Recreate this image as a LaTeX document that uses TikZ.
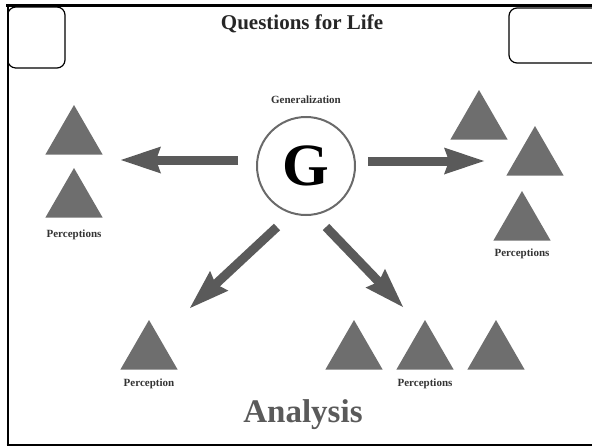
\documentclass[tikz,border=0pt]{standalone}
\usepackage{fontspec}
\setmainfont{Liberation Serif}
\usetikzlibrary{shapes.geometric, arrows.meta, positioning}

\definecolor{arrowgray}{HTML}{5A5A5A}
\definecolor{trigray}{HTML}{6E6E6E}
\definecolor{ringgray}{HTML}{6A6A6A}

\begin{document}
\begin{tikzpicture}[x=1pt, y=-1pt,
            % Styles
            percept/.style={regular polygon, regular polygon sides=3, fill=trigray, minimum size=66pt, inner sep=0pt, outer sep=0pt},
            caption/.style={font=\bfseries\fontsize{11}{13}\selectfont, text=black!80, inner sep=0pt},
            gen/.style={circle, draw=ringgray, line width=2pt, minimum size=98pt, inner sep=0pt, font=\bfseries\fontsize{60}{60}\selectfont},
            bigarrow/.style={draw=arrowgray, line width=9pt, -{Stealth[length=40pt, width=27pt, inset=5pt, line width=0pt]}},
            tab/.style={draw=black, line width=1.2pt, rounded corners=8pt}
        ]
        \useasboundingbox (0,0) rectangle (592,447);

        % Frame
        \draw[line width=3pt] (6,5.5) -- (592,5.5);
        \draw[line width=2.4pt] (7.8,4) -- (7.8,446);
        \draw[line width=1.6pt] (6.6,445) -- (592,445);
        \draw[tab] (7.8,7) rectangle (65,68);
        \draw[tab] (592,8) -- (509,8) -- (509,63) -- (592,63);

        % Title
        \node[font=\bfseries\fontsize{21}{24}\selectfont, text=black!85, anchor=base] (title) at (302,29) {Questions for Life};

        % Generalization
        \node[gen] (G) at (306,166) {G};
        \node[caption, above=12pt of G] (genlabel) {Generalization};

        % Left perceptions
        \node[percept] (lt1) at (74,138) {};
        \node[percept] (lt2) at (74,201) {};
        \node[caption, below=12pt of lt2] (lcap) {Perceptions};

        % Right perceptions
        \node[percept] (rt1) at (479,123) {};
        \node[percept] (rt2) at (535,159) {};
        \node[percept] (rt3) at (522,224) {};
        \node[caption, below=8pt of rt3] (rcap) {Perceptions};

        % Bottom perceptions
        \node[percept] (bt1) at (149,353) {};
        \node[percept] (bt2) at (354,353) {};
        \node[percept] (bt3) at (425,353) {};
        \node[percept] (bt4) at (496,353) {};
        \node[caption, below=9pt of bt1] (bcap1) {Perception};
        \node[caption, below=9pt of bt3] (bcap2) {Perceptions};

        % Analysis
        \node[font=\bfseries\fontsize{33}{36}\selectfont, text=arrowgray, anchor=base] (analysis) at (303,422) {Analysis};

        % Arrow ends
        \coordinate (ltail) at (238,160);
        \coordinate (lhead) at (121,160);
        \coordinate (rtail) at (368,161);
        \coordinate (rhead) at (484,161);
        \coordinate (dltail) at (277,227);
        \coordinate (dlhead) at (190,308);
        \coordinate (drtail) at (326,227);
        \coordinate (drhead) at (403,307);

        % Edges
        \draw[bigarrow] (ltail) -- (lhead);
        \draw[bigarrow] (rtail) -- (rhead);
        \draw[bigarrow] (dltail) -- (dlhead);
        \draw[bigarrow] (drtail) -- (drhead);

    \end{tikzpicture}
\end{document}
